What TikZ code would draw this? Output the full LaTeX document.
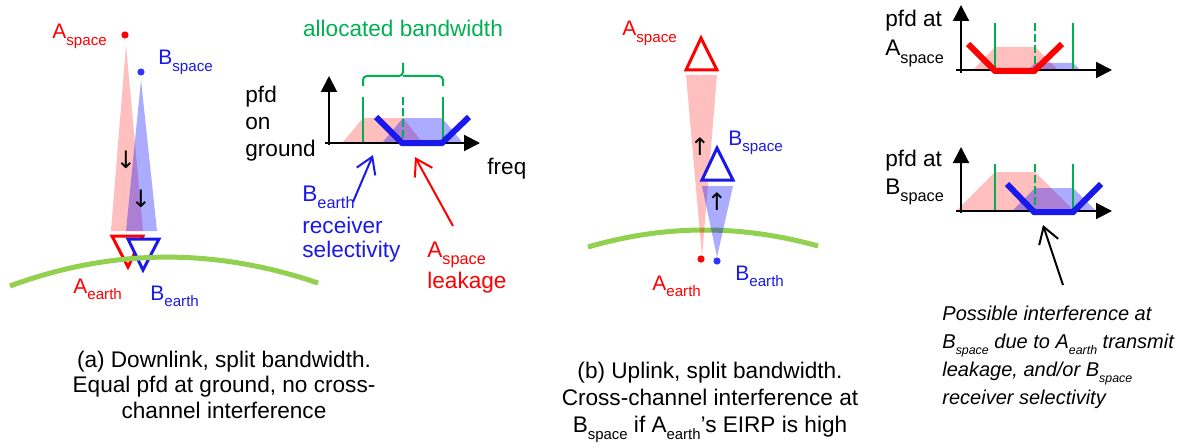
\documentclass[tikz,border=0pt]{standalone}
\usepackage{fontspec}
\setmainfont{Liberation Sans}
\newfontfamily\arrowfont{DejaVu Sans}
\usetikzlibrary{arrows.meta}

\definecolor{bwgreen}{RGB}{0,176,80}
\definecolor{earthgreen}{RGB}{146,208,80}
\definecolor{bblue}{RGB}{25,25,235}
\newcommand{\subtxt}[2][0.72]{\raisebox{-0.6ex}{\scalebox{#1}{#2}}}

\tikzset{
  lbl/.style={inner sep=0pt,anchor=base west,font=\fontsize{10.5}{12}\selectfont},
  txt/.style={inner sep=0pt,anchor=base west,align=left,font=\fontsize{11.3}{12}\selectfont},
  capt/.style={inner sep=0pt,anchor=base,align=center,font=\fontsize{11.3}{12.7}\selectfont},
  flow/.style={inner sep=0pt,font=\arrowfont\fontsize{12}{14}\selectfont},
  dot/.style={circle,inner sep=0pt,minimum size=3.6pt},
  beamA/.style={fill=red,fill opacity=.25},
  beamB/.style={fill=blue,fill opacity=.33},
  tri/.style={line width=1.5pt},
  ground/.style={draw=earthgreen,line width=2.5pt},
  band/.style={draw=bwgreen,line width=1pt},
  axis/.style={line width=1pt,-{Triangle[length=8pt,width=8pt]}},
  sel/.style={line width=3pt},
  callout/.style={line width=1pt,-{Straight Barb[length=8pt,width=10pt]}}
}

\begin{document}
\begin{tikzpicture}[x=0.5pt,y=-0.5pt]
  \useasboundingbox (0,0) rectangle (1186,444);

  % (a) downlink
  \fill[beamA] (126,45) -- (111,231) -- (143,231) -- cycle;
  \fill[beamB] (141,80) -- (126,231) -- (157,231) -- cycle;
  \node[flow] (dnA) at (126,160) {↓};
  \node[flow] (dnB) at (141,199) {↓};
  \draw[tri,red] (112,236) -- (143,236) -- (128,267) -- cycle;
  \draw[tri,bblue,fill=white] (128,239) -- (159,239) -- (143,270) -- cycle;
  \draw[ground] (10,286) .. controls (113,248) and (215,248) .. (318,283);
  \node[dot,fill=red] (satA) at (125,35) {};
  \node[dot,fill=blue!80] (satB) at (141,72) {};
  \node[lbl,red] (AspaceA) at (52,39) {A\subtxt{space}};
  \node[lbl,bblue] (BspaceA) at (158,65) {B\subtxt{space}};
  \node[lbl,red] (AearthA) at (73,293) {A\subtxt{earth}};
  \node[lbl,bblue] (BearthA) at (150,300) {B\subtxt{earth}};

  % spectrum on the ground
  \fill[beamA] (342,143) -- (363,118) -- (403,118) -- (423,143) -- cycle;
  \fill[beamB] (382,143) -- (403,118) -- (442,118) -- (463,143) -- cycle;
  \draw[band] (363,97) -- (363,143) (443,97) -- (443,143);
  \draw[band,dash pattern=on 4pt off 1.5pt] (403,97) -- (403,143);
  \draw[band,rounded corners=2pt] (363,86) |- (403,76) -- (403,63);
  \draw[band,rounded corners=2pt] (443,86) |- (403,76);
  \draw[axis] (329,145) -- (329,76);
  \draw[axis] (325,143) -- (480,143);
  \draw[sel,bblue] (376,117) -- (402,143) -- (442,143) -- (469,117);
  \node[txt,bwgreen,anchor=base] (alloc) at (403,37) {allocated bandwidth};
  \node[txt,font=\fontsize{11.3}{13.5}\selectfont] (pfdG) at (245,156) {pfd\\on\\ground};
  \node[txt] (freq) at (487,174) {freq};
  \node[txt,bblue] (rxsel) at (302,257) {B\subtxt{earth}\\[4pt]receiver\\selectivity};
  \node[txt,red] (leak) at (427,288) {A\subtxt{space}\\[1pt]leakage};
  \path (353,202) coordinate (selTail) (373,155) coordinate (selTip)
        (453,226) coordinate (leakTail) (415,157) coordinate (leakTip);
  \draw[callout,bblue] (selTail) -- (selTip);
  \draw[callout,red] (leakTail) -- (leakTip);

  \node[capt] (capA) at (224,418) {(a) Downlink, split bandwidth.\\Equal pfd at ground, no cross-\\channel interference};

  % (b) uplink
  \draw[ground] (588,247) .. controls (665,224.5) and (741,224.5) .. (818,246);
  \fill[beamA] (686,75) -- (717,75) -- (702,257) -- cycle;
  \fill[beamB] (702,186) -- (733,186) -- (717,257) -- cycle;
  \draw[tri,red] (701,38) -- (717,70) -- (686,70) -- cycle;
  \draw[tri,bblue,fill=white] (717,148) -- (733,180) -- (702,180) -- cycle;
  \node[flow] (upA) at (700,147) {↑};
  \node[flow] (upB) at (717,202) {↑};
  \node[dot,fill=red] (gndA) at (701,259) {};
  \node[dot,fill=blue!80] (gndB) at (717,261) {};
  \node[lbl,red] (AspaceB) at (622,36) {A\subtxt{space}};
  \node[lbl,bblue] (BspaceB) at (728,145) {B\subtxt{space}};
  \node[lbl,red] (AearthB) at (652,290) {A\subtxt{earth}};
  \node[lbl,bblue] (BearthB) at (735,280) {B\subtxt{earth}};

  \node[capt,font=\fontsize{11.3}{13.5}\selectfont] (capB) at (710,432) {(b) Uplink, split bandwidth.\\Cross-channel interference at\\B\subtxt[0.66]{space} if A\subtxt[0.66]{earth}’s EIRP is high};

  % spectrum at A_space
  \fill[beamA] (973,70) -- (995,47) -- (1035,47) -- (1058,70) -- cycle;
  \fill[beamB] (1028,70) -- (1035,63) -- (1073,63) -- (1080,70) -- cycle;
  \draw[band] (995,23) -- (995,70) (1073,23) -- (1073,70);
  \draw[band,dash pattern=on 4pt off 1.5pt] (1035,23) -- (1035,70);
  \draw[axis] (961,73) -- (961,5);
  \draw[axis] (956,70) -- (1112,70);
  \draw[sel,red] (968,44) -- (995,71) -- (1034,71) -- (1062,44);
  \node[txt,font=\fontsize{11.3}{14.5}\selectfont] (pfdA) at (885,56) {pfd at\\A\subtxt{space}};

  % spectrum at B_space
  \fill[beamA] (956,211) -- (995,172) -- (1035,172) -- (1074,211) -- cycle;
  \fill[beamB] (1012,211) -- (1035,188) -- (1073,188) -- (1096,211) -- cycle;
  \draw[band] (995,164) -- (995,211) (1073,164) -- (1073,211);
  \draw[band,dash pattern=on 4pt off 1.5pt] (1035,164) -- (1035,211);
  \draw[axis] (961,213) -- (961,147);
  \draw[axis] (956,211) -- (1112,211);
  \draw[sel,bblue] (1007,184) -- (1034,212) -- (1073,212) -- (1101,184);
  \node[txt,font=\fontsize{11.3}{14}\selectfont] (pfdB) at (885,194) {pfd at\\B\subtxt{space}};

  \path (1063,285) coordinate (noteTail) (1043,225) coordinate (noteTip);
  \draw[callout] (noteTail) -- (noteTip);
  \node[txt,font=\itshape\fontsize{10}{14}\selectfont] (note) at (942,404) {Possible interference at\\B\subtxt[0.62]{space} due to A\subtxt[0.62]{earth} transmit\\leakage, and/or B\subtxt[0.62]{space}\\receiver selectivity};
\end{tikzpicture}
\end{document}
